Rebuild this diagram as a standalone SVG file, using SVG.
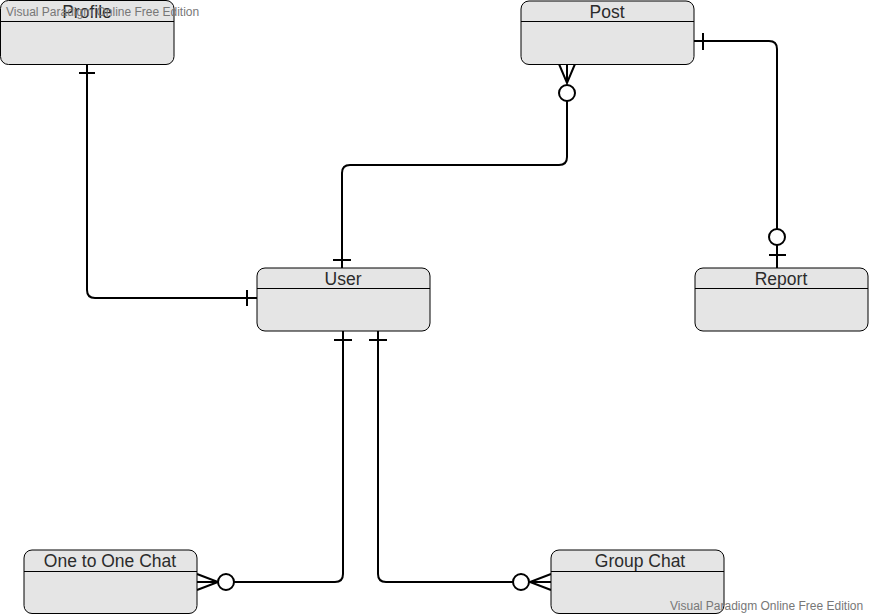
<svg xmlns="http://www.w3.org/2000/svg" width="869" height="615" viewBox="0 0 869 615">
<style>
.box{fill:#e5e5e5;stroke:#000;stroke-width:1}
.sep{stroke:#000;stroke-width:1}
.t{font-family:"Liberation Sans",Arial,sans-serif;font-size:17.5px;fill:#2b2b2b;text-anchor:middle}
.c{fill:none;stroke:#000;stroke-width:2}
.o{fill:#fff;stroke:#000;stroke-width:2}
.wm{font-family:"Liberation Sans",Arial,sans-serif;font-size:12px;fill:#777}
</style>
<rect width="869" height="615" fill="#fff"/>
<g id="connectors">
  <!-- Profile - User -->
  <path class="c" d="M87,64 V290 Q87,298 95,298 H257"/>
  <path class="c" d="M79,73 H95 M247,290 V306"/>
  <!-- Post - User -->
  <path class="c" d="M567,64 V83 M559,64 L567,83 L575,64"/>
  <path class="c" d="M567,101 V157 Q567,165 559,165 H350 Q342,165 342,173 V268"/>
  <circle class="o" cx="567" cy="93" r="8"/>
  <path class="c" d="M333,260 H351"/>
  <!-- Post - Report -->
  <path class="c" d="M694,41 H769 Q777,41 777,49 V229 M777,245 V268"/>
  <path class="c" d="M703,33 V50 M769,255 H786"/>
  <circle class="o" cx="777" cy="237" r="8"/>
  <!-- User - One to One Chat -->
  <path class="c" d="M343,331 V574 Q343,582 335,582 H234"/>
  <path class="c" d="M334,340 H352"/>
  <path class="c" d="M197,582 H218 M197,574 L218,582 L197,590"/>
  <circle class="o" cx="226" cy="582" r="8"/>
  <!-- User - Group Chat -->
  <path class="c" d="M378,331 V574 Q378,582 386,582 H513"/>
  <path class="c" d="M369,340 H387"/>
  <path class="c" d="M551,582 H530 M551,574 L530,582 L551,590"/>
  <circle class="o" cx="521" cy="582" r="8"/>
</g>
<g id="profile">
  <rect class="box" x="0.5" y="0.5" width="173.5" height="64" rx="8"/>
  <line class="sep" x1="0.5" y1="21.5" x2="174" y2="21.5"/>
  <text class="t" x="87" y="18">Profile</text>
</g>
<g id="post">
  <rect class="box" x="521" y="1" width="173" height="63.5" rx="8"/>
  <line class="sep" x1="521" y1="21.5" x2="694" y2="21.5"/>
  <text class="t" x="607" y="18">Post</text>
</g>
<g id="user">
  <rect class="box" x="257" y="268" width="173" height="63" rx="8"/>
  <line class="sep" x1="257" y1="288.5" x2="430" y2="288.5"/>
  <text class="t" x="343" y="285">User</text>
</g>
<g id="report">
  <rect class="box" x="695" y="268" width="173" height="63" rx="8"/>
  <line class="sep" x1="695" y1="288.5" x2="868" y2="288.5"/>
  <text class="t" x="781" y="285">Report</text>
</g>
<g id="one-to-one-chat">
  <rect class="box" x="24" y="550" width="173" height="63.5" rx="8"/>
  <line class="sep" x1="24" y1="571.5" x2="197" y2="571.5"/>
  <text class="t" x="110" y="567">One to One Chat</text>
</g>
<g id="group-chat">
  <rect class="box" x="551" y="550" width="173" height="63.5" rx="8"/>
  <line class="sep" x1="551" y1="571.5" x2="724" y2="571.5"/>
  <text class="t" x="640" y="567">Group Chat</text>
</g>
<text class="wm" x="6" y="16">Visual Paradigm Online Free Edition</text>
<text class="wm" x="670" y="610">Visual Paradigm Online Free Edition</text>
</svg>
